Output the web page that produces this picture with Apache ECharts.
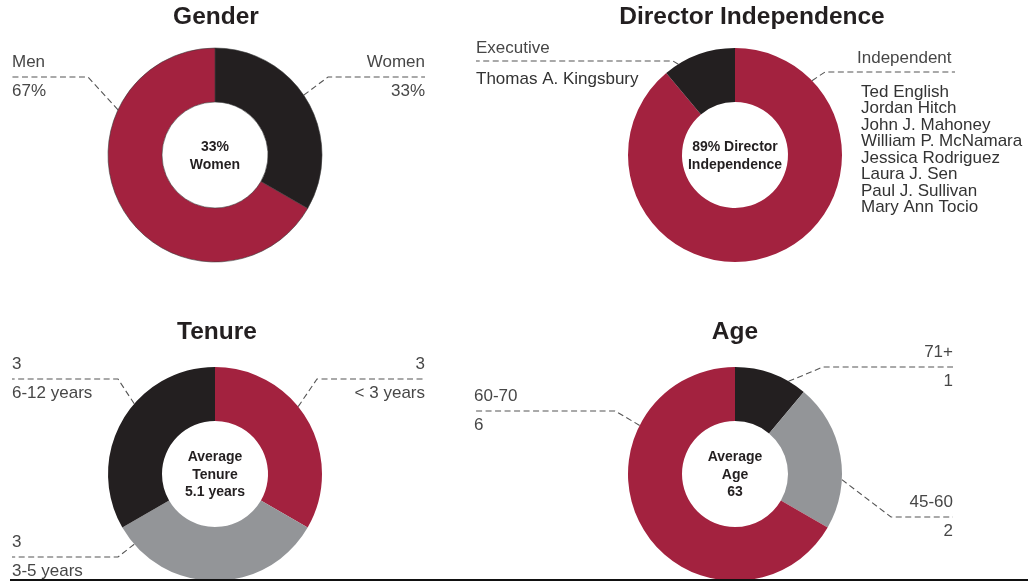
<!DOCTYPE html>
<html>
<head>
<meta charset="utf-8">
<script src="https://cdn.jsdelivr.net/npm/echarts@6/dist/echarts.min.js"></script>
<style>
html, body { margin: 0; padding: 0; background: #fff; }
#main { width: 1033px; height: 582px; }
</style>
</head>
<body>
<div id="main"></div>
<script>
// ---- data ----
var panelTitles = ['Gender', 'Director Independence', 'Tenure', 'Age'];
var centerTexts = ['33%\nWomen', '89% Director\nIndependence', 'Average\nTenure\n5.1 years', 'Average\nAge\n63'];

var genderNames = ['Women', 'Men'];
var genderValues = [3, 6];

var independenceNames = ['Independent', 'Executive'];
var independentDirectors = ['Ted English', 'Jordan Hitch', 'John J. Mahoney', 'William P. McNamara',
    'Jessica Rodriguez', 'Laura J. Sen', 'Paul J. Sullivan', 'Mary Ann Tocio'];
var executiveDirectors = ['Thomas A. Kingsbury'];

var tenureNames = ['< 3 years', '3-5 years', '6-12 years'];
var tenureValues = [3, 3, 3];

var ageNames = ['71+', '45-60', '60-70'];
var ageValues = [1, 2, 6];

// ---- styling ----
var RED = '#a3223f', BLACK = '#231f20', GRAY = '#939598';
var FONT = '"Liberation Sans", Arial, Helvetica, sans-serif';
var R_IN = 53, R_OUT = 107;

var myChart = echarts.init(document.getElementById('main'));

// leader line: ring point -> elbow -> horizontal to the outer edge
function guideLayout(specs, cx, cy) {
    return function (params) {
        var s = specs[params.dataIndex];
        var a = s.angle * Math.PI / 180;
        var onRing = [cx + R_OUT * Math.sin(a), cy - R_OUT * Math.cos(a)];
        var toRight = s.edge > cx;
        return {
            x: s.textX != null ? s.textX : s.edge,
            y: s.lineY - s.above,
            align: s.textX != null ? 'left' : (toRight ? 'right' : 'left'),
            verticalAlign: 'top',
            labelLinePoints: [onRing, [s.elbow, s.lineY], [s.edge, s.lineY]]
        };
    };
}

var labelRich = {
    a: {fontSize: 17, lineHeight: 29, color: '#474747', fontFamily: FONT},
    h: {fontSize: 17, lineHeight: 28, color: '#474747', fontFamily: FONT},
    e: {fontSize: 17, lineHeight: 26, color: '#474747', fontFamily: FONT},
    sp: {lineHeight: 11.75, height: 11.75},
    sp2: {lineHeight: 10.5, height: 10.5},
    n: {fontSize: 17, lineHeight: 16.5, color: '#333', fontFamily: FONT, padding: [0, 0, 0, 4]},
    n2: {fontSize: 17, lineHeight: 16.5, color: '#333', fontFamily: FONT}
};

function baseSeries(center, colors, names, values) {
    return {
        type: 'pie',
        center: center,
        radius: [R_IN, R_OUT],
        startAngle: 90,
        clockwise: true,
        silent: true,
        avoidLabelOverlap: false,
        emphasis: {disabled: true},
        itemStyle: {borderWidth: 0},
        labelLine: {show: true, smooth: false, lineStyle: {color: '#555', width: 1.1, type: [6, 3.5]}},
        data: names.map(function (n, i) {
            return {name: n, value: values[i], itemStyle: {color: colors[i]}};
        })
    };
}

var gender = baseSeries([215, 155], [BLACK, RED], genderNames, genderValues);
gender.itemStyle = {borderWidth: 0.6, borderColor: '#3a3a3a'};
gender.label = {
    show: true, position: 'outside', fontFamily: FONT, rich: labelRich,
    formatter: function (p) { return '{a|' + p.name + '}\n{a|' + Math.round(p.percent) + '%}'; }
};
gender.labelLayout = guideLayout([
    {angle: 56, lineY: 77, elbow: 328, edge: 425, above: 29},
    {angle: 295, lineY: 77, elbow: 88, edge: 12, above: 29}
], 215, 155);

var directorLists = [independentDirectors, executiveDirectors];
var independence = baseSeries([735, 155], [RED, BLACK], independenceNames,
    [independentDirectors.length, executiveDirectors.length]);
independence.label = {
    show: true, position: 'outside', fontFamily: FONT, rich: labelRich,
    formatter: function (p) {
        var list = directorLists[p.dataIndex];
        if (p.dataIndex === 0) {
            return '{h|' + p.name + '}\n{sp|}\n' + list.map(function (d) { return '{n|' + d + '}'; }).join('\n');
        }
        return '{e|' + p.name + '}\n{sp2|}\n' + list.map(function (d) { return '{n2|' + d + '}'; }).join('\n');
    }
};
independence.labelLayout = guideLayout([
    {angle: 46, lineY: 72, elbow: 825, edge: 955, textX: 857, above: 28},
    {angle: 328, lineY: 61, elbow: 673, edge: 476, above: 26}
], 735, 155);

var tenure = baseSeries([215, 474], [RED, GRAY, BLACK], tenureNames, tenureValues);
tenure.label = {
    show: true, position: 'outside', fontFamily: FONT, rich: labelRich,
    formatter: function (p) { return '{a|' + p.value + '}\n{a|' + p.name + '}'; }
};
tenure.labelLayout = guideLayout([
    {angle: 51, lineY: 379, elbow: 317, edge: 425, above: 29},
    {angle: 229, lineY: 557, elbow: 118, edge: 12, above: 29},
    {angle: 311, lineY: 379, elbow: 118, edge: 12, above: 29}
], 215, 474);

var age = baseSeries([735, 474], [BLACK, GRAY, RED], ageNames, ageValues);
age.label = {
    show: true, position: 'outside', fontFamily: FONT, rich: labelRich,
    formatter: function (p) { return '{a|' + p.name + '}\n{a|' + p.value + '}'; }
};
age.labelLayout = guideLayout([
    {angle: 30, lineY: 367, elbow: 823, edge: 953, above: 29},
    {angle: 93, lineY: 517, elbow: 891, edge: 953, above: 29},
    {angle: 297, lineY: 411, elbow: 615, edge: 474, above: 29}
], 735, 474);

var titlePos = [[216, 4], [752, 4], [217, 319], [735, 319]];
var centerPos = [[215, 138.5], [735, 138.5], [215, 448.5], [735, 448.5]];

var titles = [];
for (var i = 0; i < panelTitles.length; i++) {
    titles.push({
        text: panelTitles[i], left: titlePos[i][0], top: titlePos[i][1], textAlign: 'center', padding: 0,
        textStyle: {fontFamily: FONT, fontSize: 24.5, fontWeight: 'bold', color: BLACK, lineHeight: 26}
    });
    titles.push({
        text: centerTexts[i], left: centerPos[i][0], top: centerPos[i][1], textAlign: 'center', padding: 0,
        textStyle: {fontFamily: FONT, fontSize: 14, fontWeight: 'bold', color: BLACK, lineHeight: 17.5}
    });
}

var option = {
    animation: false,
    backgroundColor: '#fff',
    textStyle: {fontFamily: FONT},
    title: titles,
    series: [gender, independence, tenure, age],
    graphic: [{
        type: 'rect', z: 100,
        shape: {x: 10, y: 579, width: 1018, height: 2},
        style: {fill: '#111'}
    }]
};
myChart.setOption(option);
</script>
</body>
</html>
